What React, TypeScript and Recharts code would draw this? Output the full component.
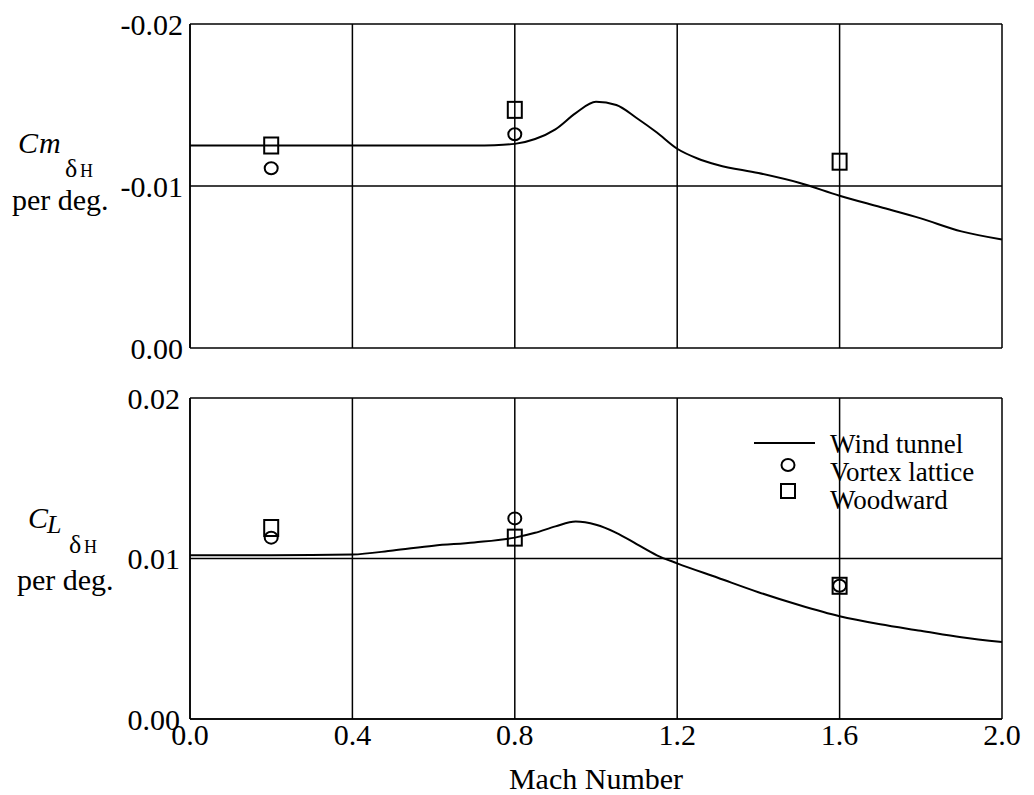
import React from 'react';
import { ComposedChart, Line, Scatter, XAxis, YAxis, CartesianGrid, Legend } from 'recharts';

const machTicks = [0, 0.4, 0.8, 1.2, 1.6, 2.0];
const cmTicks = [-0.02, -0.01, 0];
const clTicks = [0, 0.01, 0.02];

// wind tunnel, pitching moment
const windCmMach = [0, 0.2, 0.4, 0.6, 0.7, 0.75, 0.8, 0.85, 0.9, 0.95, 1.0, 1.05, 1.1, 1.15, 1.2, 1.25, 1.3, 1.4, 1.5, 1.6, 1.7, 1.8, 1.9, 2.0];
const windCm = [-0.0125, -0.0125, -0.0125, -0.0125, -0.0125, -0.01252, -0.0126, -0.0129, -0.0135, -0.0145, -0.0152, -0.015, -0.0142, -0.0133, -0.0123, -0.0117, -0.0113, -0.0108, -0.0102, -0.0094, -0.0087, -0.008, -0.0072, -0.0067];

// wind tunnel, lift
const windClMach = [0, 0.2, 0.4, 0.5, 0.6, 0.7, 0.8, 0.85, 0.9, 0.95, 1.0, 1.05, 1.1, 1.15, 1.2, 1.3, 1.4, 1.5, 1.6, 1.7, 1.8, 1.9, 2.0];
const windCl = [0.0102, 0.0102, 0.01025, 0.0105, 0.0108, 0.011, 0.0113, 0.0116, 0.012, 0.0123, 0.0121, 0.0116, 0.0109, 0.0102, 0.0097, 0.0088, 0.0079, 0.0071, 0.0064, 0.0059, 0.0055, 0.0051, 0.0048];

const vortexCmMach = [0.2, 0.8];
const vortexCm = [-0.0111, -0.0132];
const woodwardCmMach = [0.2, 0.8, 1.6];
const woodwardCm = [-0.0125, -0.0147, -0.0115];

const vortexClMach = [0.2, 0.8, 1.6];
const vortexCl = [0.0113, 0.0125, 0.0083];
const woodwardClMach = [0.2, 0.8, 1.6];
const woodwardCl = [0.0119, 0.0113, 0.0083];

const legendNames = ['Wind tunnel', 'Vortex lattice', 'Woodward'];

const zip = (xs: number[], ys: number[]) => xs.map((mach, i) => ({ mach, v: ys[i] }));

const serif = '"Liberation Serif", "Times New Roman", serif';
const tickStyle = { fill: '#000', fontSize: 30, fontFamily: serif };

const CircleMark = (p: any) => (
  <ellipse cx={p.cx} cy={p.cy} rx={6.5} ry={6} fill="none" stroke="#000" strokeWidth={2} />
);
const SquareMark = (p: any) => (
  <rect x={p.cx - 7} y={p.cy - 8} width={14} height={16} fill="none" stroke="#000" strokeWidth={2} />
);

function LegendBox() {
  return (
    <svg width={280} height={90} style={{ display: 'block' }}>
      <line x1={4} x2={65} y1={15} y2={15} stroke="#000" strokeWidth={2} />
      <ellipse cx={38} cy={37} rx={6.5} ry={6} fill="none" stroke="#000" strokeWidth={2} />
      <rect x={31} y={56} width={14} height={14} fill="none" stroke="#000" strokeWidth={2} />
      {legendNames.map((n, i) => (
        <text key={n} x={80} y={25 + i * 28} fontSize={27} fontFamily={serif} fill="#000">
          {n}
        </text>
      ))}
    </svg>
  );
}

export default function App() {
  const axisLine = { stroke: '#000', strokeWidth: 1.5 };
  return (
    <div style={{ position: 'absolute', left: 0, top: 0, width: 1034, height: 795, background: '#fff' }}>
      <div style={{ position: 'absolute', left: 0, top: 0 }}>
        <ComposedChart width={1034} height={370} margin={{ top: 24, right: 32, left: 0, bottom: 22 }}>
          <CartesianGrid stroke="#000" strokeWidth={1.5} fill="none" />
          <XAxis type="number" dataKey="mach" domain={[0, 2]} ticks={machTicks} hide />
          <YAxis
            type="number"
            domain={[-0.02, 0]}
            reversed
            ticks={cmTicks}
            width={190}
            tickLine={false}
            tickSize={0}
            tickMargin={7}
            axisLine={axisLine}
            tick={tickStyle}
            tickFormatter={(v: number) => (v === 0 ? '0.00' : v.toFixed(2))}
          />
          <Line data={zip(windCmMach, windCm)} dataKey="v" type="monotone" stroke="#000" strokeWidth={2} dot={false} isAnimationActive={false} />
          <Scatter data={zip(vortexCmMach, vortexCm)} dataKey="v" shape={CircleMark} isAnimationActive={false} />
          <Scatter data={zip(woodwardCmMach, woodwardCm)} dataKey="v" shape={SquareMark} isAnimationActive={false} />
        </ComposedChart>
      </div>
      <div style={{ position: 'absolute', left: 0, top: 370 }}>
        <ComposedChart width={1034} height={425} margin={{ top: 28, right: 32, left: 0, bottom: 4 }}>
          <CartesianGrid stroke="#000" strokeWidth={1.5} fill="none" />
          <XAxis
            type="number"
            dataKey="mach"
            domain={[0, 2]}
            ticks={machTicks}
            height={72}
            tickLine={false}
            tickSize={0}
            tickMargin={5}
            axisLine={axisLine}
            tick={tickStyle}
            tickFormatter={(v: number) => v.toFixed(1)}
            label={{ value: 'Mach Number', position: 'insideBottom', offset: 2, fill: '#000', fontSize: 30, fontFamily: serif }}
          />
          <YAxis
            type="number"
            domain={[0, 0.02]}
            ticks={clTicks}
            width={190}
            tickLine={false}
            tickSize={0}
            tickMargin={10}
            axisLine={axisLine}
            tick={tickStyle}
            tickFormatter={(v: number) => v.toFixed(2)}
          />
          <Legend
            layout="vertical"
            align="center"
            verticalAlign="middle"
            content={() => <LegendBox />}
            wrapperStyle={{ left: 750, top: 58, width: 280, height: 90 }}
          />
          <Line data={zip(windClMach, windCl)} dataKey="v" name="Wind tunnel" type="monotone" stroke="#000" strokeWidth={2} dot={false} isAnimationActive={false} />
          <Scatter data={zip(vortexClMach, vortexCl)} dataKey="v" name="Vortex lattice" shape={CircleMark} isAnimationActive={false} />
          <Scatter data={zip(woodwardClMach, woodwardCl)} dataKey="v" name="Woodward" shape={SquareMark} isAnimationActive={false} />
        </ComposedChart>
      </div>
      <svg width={190} height={795} style={{ position: 'absolute', left: 0, top: 0, pointerEvents: 'none' }}>
        <g fontFamily={serif} fill="#000">
          <text x={18} y={153} fontSize={30} fontStyle="italic">C</text>
          <text x={39} y={153} fontSize={30} fontStyle="italic">m</text>
          <text x={65} y={177} fontSize={26}>δ</text>
          <text x={80} y={177} fontSize={18}>H</text>
          <text x={12} y={210} fontSize={30}>per deg.</text>

          <text x={28} y={528} fontSize={30} fontStyle="italic">C</text>
          <text x={47} y={533} fontSize={26} fontStyle="italic">L</text>
          <text x={69} y={553} fontSize={26}>δ</text>
          <text x={84} y={553} fontSize={18}>H</text>
          <text x={17} y={590} fontSize={30}>per deg.</text>
        </g>
      </svg>
    </div>
  );
}
